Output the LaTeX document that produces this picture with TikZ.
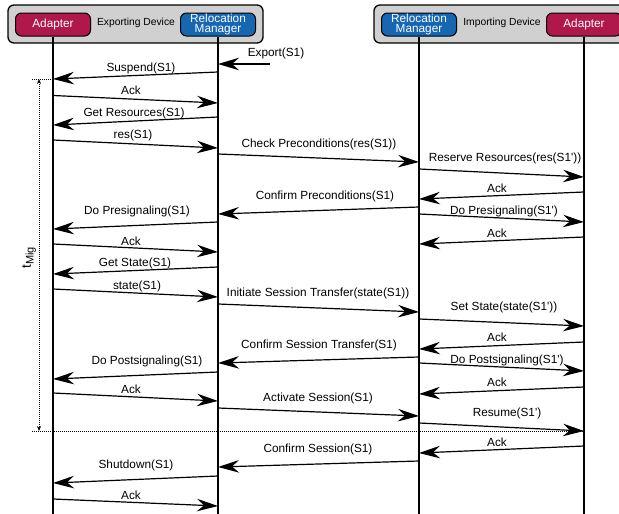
\documentclass[tikz,border=0pt]{standalone}
\usepackage{fontspec}
\setmainfont{Liberation Sans}
\usetikzlibrary{arrows.meta,positioning}

\definecolor{adapterred}{HTML}{B0174B}
\definecolor{managerblue}{HTML}{1766B2}
\definecolor{devgray}{HTML}{D0D0D0}
\newcommand{\pr}{\textquotesingle}

\begin{document}
\begin{tikzpicture}[x=1pt,y=-1pt,
  dev/.style={draw=black,line width=1.3pt,fill=devgray,rounded corners=6pt,
    minimum height=38pt,inner sep=0pt},
  ent/.style={draw=black,line width=1pt,rounded corners=6pt,minimum width=75pt,
    minimum height=23pt,inner sep=0pt,text=white,align=center,
    font=\fontsize{11.8}{10.5}\selectfont},
  devlbl/.style={inner sep=0pt,font=\fontsize{10.3}{12}\selectfont},
  lbl/.style={inner sep=0pt,font=\fontsize{11.8}{13}\selectfont},
  life/.style={line width=1.4pt},
  msg/.style={line width=1.2pt,-{Stealth[length=21pt,width=12.5pt,inset=7pt]}},
  dotline/.style={line width=1pt,dash pattern=on 1pt off 1pt},
  tmig/.style={dotline,{Stealth[length=5pt,width=4pt]}-{Stealth[length=5pt,width=4pt]}}]

\useasboundingbox (0,0) rectangle (619,514);

% devices
\node[dev,minimum width=255pt] (expdev) at (135.5,24) {};
\node[dev,minimum width=258pt] (impdev) at (503,24) {};
\node[devlbl] (explbl) at (136,23) {Exporting Device};
\node[devlbl] (implbl) at (502,23) {Importing Device};

% entities
\node[ent,fill=adapterred]  (adL) at (53,24.5)  {Adapter};
\node[ent,fill=managerblue] (rmL) at (218,24.5) {Relocation\\Manager};
\node[ent,fill=managerblue] (rmR) at (419,24.5) {Relocation\\Manager};
\node[ent,fill=adapterred]  (adR) at (584,24.5) {Adapter};

% lifelines
\coordinate (bot) at (0,514);
\foreach \n in {adL,rmL,rmR,adR}
  \draw[life] (\n.south) -- (\n.south |- bot);

% migration time
\coordinate (tA) at (32,79);
\coordinate (tB) at (32,431);
\coordinate (mA) at (39,79);
\coordinate (mB) at (39,431);
\draw[dotline] (tA) -- (adL |- tA);
\draw[dotline] (tB) -- (adR |- tB);
\draw[tmig] (mA) -- (mB);
\node[lbl,rotate=90,font=\fontsize{13.5}{14}\selectfont] (tlbl) at (29,258)
  {t\raisebox{-.4ex}{\fontsize{11}{12}\selectfont Mig}};

% messages
\coordinate (exp) at (270,64);
\draw[msg] (exp) -- (rmL |- exp);
\node[lbl] (explab) at (276,53) {Export(S1)};

\foreach \f/\ya/\t/\yb/\lx/\ly/\txt [count=\i] in {% from/y/to/y/label x/label y/text
   rmL/72/adL/79/141/68/Suspend(S1),
   adL/95.5/rmL/103/131/90/Ack,
   rmL/117/adL/125/134/113/Get Resources(S1),
   adL/140/rmL/148/133/135/res(S1),
   rmL/154/rmR/162/319/144/Check Preconditions(res(S1)),
   rmR/169/adR/177/505/158/Reserve Resources(res(S1\pr)),
   adR/192/rmR/199/497/188/Ack,
   rmR/207/rmL/214/325/196/Confirm Preconditions(S1),
   rmR/214/adR/222/504/211/Do Presignaling(S1\pr),
   rmL/222/adL/229/137/211/Do Presignaling(S1),
   adR/237/rmR/244/497/233/Ack,
   adL/244/rmL/252/131/241/Ack,
   rmL/267/adL/274/135/263/Get State(S1),
   adL/289/rmL/297/137/286/state(S1),
   rmL/304/rmR/312/318/293/Initiate Session Transfer(state(S1)),
   rmR/319/adR/326/504/307/Set State(state(S1\pr)),
   adR/342/rmR/349/497/337/Ack,
   rmR/357/rmL/363/319/345/Confirm Session Transfer(S1),
   rmR/363/adR/371/507/360/Do Postsignaling(S1\pr),
   rmL/372/adL/379/147/361/Do Postsignaling(S1),
   adR/387/rmR/394/497/382/Ack,
   adL/393/rmL/401/131/389/Ack,
   rmL/408/rmR/416/318/398/Activate Session(S1),
   rmR/423/adR/431/507/413/Resume(S1\pr),
   adR/446/rmR/453/497/442/Ack,
   rmR/461/rmL/467/318/449/Confirm Session(S1),
   rmL/476/adL/483/136/465/Shutdown(S1),
   adL/499/rmL/506/131/495/Ack}
{
  \draw[msg] (\f |- 0,\ya) -- (\t |- 0,\yb);
  \node[lbl] (m\i) at (\lx,\ly) {\txt};
}

\end{tikzpicture}
\end{document}
